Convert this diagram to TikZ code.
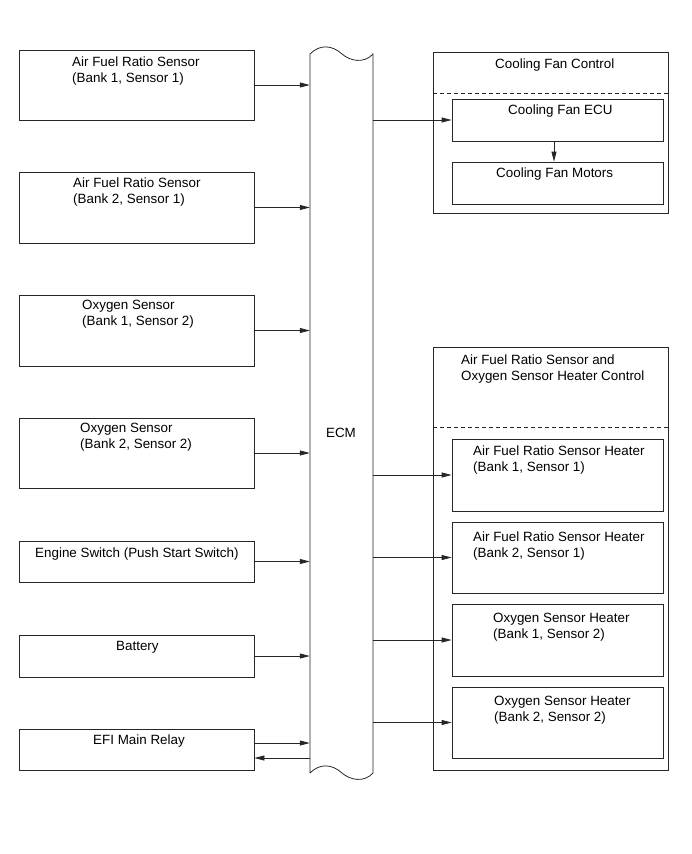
\documentclass[tikz,border=0pt]{standalone}
\usepackage{fontspec}
\setmainfont{Liberation Sans}
\usetikzlibrary{arrows.meta}
\begin{document}
\begin{tikzpicture}[x=1pt,y=-1pt,
  ln/.style={draw=black!85,line width=0.8pt},
  box/.style={ln,rectangle,inner sep=0pt},
  txt/.style={inner sep=0pt,anchor=north west,align=left,font=\fontsize{13.4}{16}\selectfont},
  arr/.style={ln,-{Triangle[length=10pt,width=5pt]}},
  dsh/.style={ln,dash pattern=on 4pt off 3pt}]
\useasboundingbox (0,0) rectangle (691,854);
% left boxes
\node[box,minimum width=234.5,minimum height=70] (b1) at (136.75,85) {};
\node[box,minimum width=234.5,minimum height=71] (b2) at (136.75,207.5) {};
\node[box,minimum width=234.5,minimum height=71] (b3) at (136.75,330.5) {};
\node[box,minimum width=234.5,minimum height=70] (b4) at (136.75,453) {};
\node[box,minimum width=234.5,minimum height=41] (b5) at (136.75,561.5) {};
\node[box,minimum width=234.5,minimum height=42] (b6) at (136.75,656) {};
\node[box,minimum width=234.5,minimum height=41] (b7) at (136.75,749.5) {};
\node[txt] (t1) at (72,57) {Air Fuel Ratio Sensor\\(Bank 1, Sensor 1)};
\node[txt] (t2) at (73,178) {Air Fuel Ratio Sensor\\(Bank 2, Sensor 1)};
\node[txt] (t3) at (82,300) {Oxygen Sensor\\(Bank 1, Sensor 2)};
\node[txt] (t4) at (80,423) {Oxygen Sensor\\(Bank 2, Sensor 2)};
\node[txt] (t5) at (35,548) {Engine Switch (Push Start Switch)};
\node[txt] (t6) at (116,641) {Battery};
\node[txt] (t7) at (93,735) {EFI Main Relay};
% ECM
\node[inner sep=0pt,minimum width=63,minimum height=719] (ecm) at (341.5,413.5) {};
\draw[ln] (310,773) -- (310,54)
  .. controls (320,44) and (332,45) .. (342,54)
  .. controls (350,61) and (364,64) .. (373,54) -- (373,773)
  .. controls (364,783) and (350,780) .. (342,773)
  .. controls (332,764) and (320,763) .. (310,773);
\node[font=\fontsize{13.4}{16}\selectfont,inner sep=0pt] (ecmlbl) at (341,433) {ECM};
% cooling fan control
\node[box,minimum width=234.5,minimum height=161] (cfc) at (550.75,132.5) {};
\draw[dsh] (cfc.west |- 0,93) -- (cfc.east |- 0,93);
\node[box,minimum width=211,minimum height=42] (ecu) at (557.5,120) {};
\node[box,minimum width=211,minimum height=42] (mot) at (557.5,183) {};
\node[txt] (tc) at (495,59) {Cooling Fan Control};
\node[txt] (tecu) at (508,105) {Cooling Fan ECU};
\node[txt] (tmot) at (496,168) {Cooling Fan Motors};
% heater control
\node[box,minimum width=234.5,minimum height=423] (hoc) at (550.75,558.5) {};
\draw[dsh] (hoc.west |- 0,427) -- (hoc.east |- 0,427);
\node[box,minimum width=211,minimum height=72] (h1) at (557.5,475) {};
\node[box,minimum width=211,minimum height=71] (h2) at (557.5,557.5) {};
\node[box,minimum width=211,minimum height=72] (h3) at (557.5,640) {};
\node[box,minimum width=211,minimum height=71] (h4) at (557.5,722.5) {};
\node[txt] (th) at (461,355) {Air Fuel Ratio Sensor and\\Oxygen Sensor Heater Control};
\node[txt] (th1) at (473,446) {Air Fuel Ratio Sensor Heater\\(Bank 1, Sensor 1)};
\node[txt] (th2) at (473,532) {Air Fuel Ratio Sensor Heater\\(Bank 2, Sensor 1)};
\node[txt] (th3) at (493,613) {Oxygen Sensor Heater\\(Bank 1, Sensor 2)};
\node[txt] (th4) at (494,696) {Oxygen Sensor Heater\\(Bank 2, Sensor 2)};
% connectors
\foreach \b in {b1,b2,b3,b4,b5,b6}
  \draw[arr] (\b.east) -- (\b.east -| ecm.west);
\draw[arr] ([yshift=6.5pt]b7.east) -- ([yshift=6.5pt]b7.east -| ecm.west);
\draw[arr] ([yshift=-8.5pt]b7.east -| ecm.west) -- ([yshift=-8.5pt]b7.east);
\foreach \h in {ecu,h1,h2,h3,h4}
  \draw[arr] (\h.west -| ecm.east) -- (\h.west);
\draw[arr] ([xshift=-3.5pt]ecu.south) -- ([xshift=-3.5pt]mot.north);
\end{tikzpicture}
\end{document}
